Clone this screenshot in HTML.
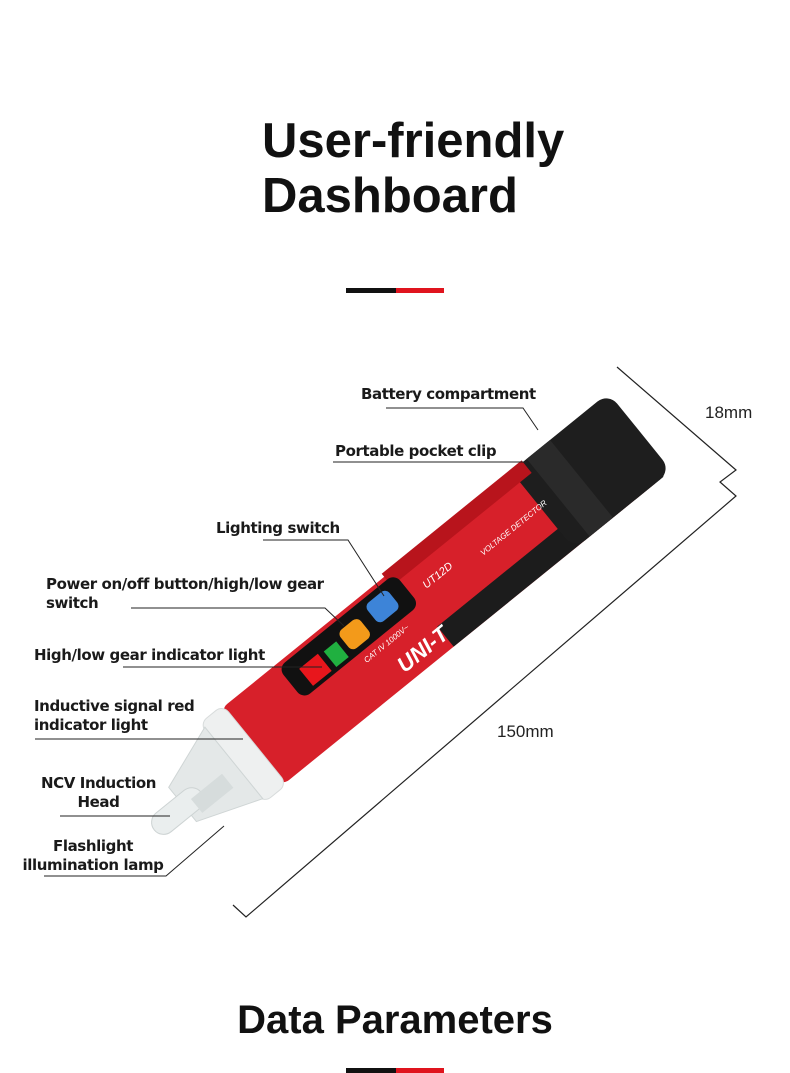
<!DOCTYPE html>
<html><head><meta charset="utf-8"><style>
html,body{margin:0;padding:0;background:#fff;}
body{width:790px;height:1073px;position:relative;overflow:hidden;font-family:"Liberation Sans","DejaVu Sans",sans-serif;}
.t{position:absolute;font-weight:bold;color:#111;}
.l{position:absolute;font-weight:bold;color:#1a1a1a;font-size:15px;line-height:19px;font-family:"DejaVu Sans","Liberation Sans",sans-serif;letter-spacing:-0.4px}
</style></head><body>
<div class="t" style="left:262px;top:114px;font-size:49px;line-height:55px;font-family:'Liberation Sans',sans-serif">User-friendly<br>Dashboard</div>
<div style="position:absolute;left:346px;top:288px;width:50px;height:5px;background:#111"></div>
<div style="position:absolute;left:396px;top:288px;width:48px;height:5px;background:#e0141e"></div>

<svg width="790" height="1073" style="position:absolute;left:0;top:0">
<g fill="none" stroke="#222" stroke-width="1.2">
<path d="M233 905 L246 917 L736 496 L720 482 L736 470 L617 367"/>
</g>
<g transform="translate(163,828) rotate(-39)">
 <rect x="118" y="-56" width="490" height="98" rx="10" fill="#d7202a"/>
 <rect x="340" y="16" width="270" height="26" fill="#1c1c1c"/>
 <rect x="495" y="-58" width="125" height="100" rx="14" fill="#1e1e1e"/>
 <rect x="515" y="-58" width="30" height="100" fill="#2a2a2a"/>
 <rect x="330" y="-60" width="180" height="16" fill="#b8141c"/>
 <rect x="190" y="-52" width="150" height="40" rx="9" fill="#111"/>
 <rect x="296" y="-46" width="28" height="24" rx="6" fill="#3d84d8"/>
 <rect x="258" y="-42" width="26" height="24" rx="6" fill="#f39a1a"/>
 <rect x="236" y="-36" width="16" height="20" fill="#20b040"/>
 <rect x="206" y="-38" width="24" height="22" fill="#e8161c"/>
 <text x="285" y="32" fill="#fff" font-size="22" font-weight="bold" font-style="italic" font-family="Liberation Sans">UNI-T</text>
 <text x="262" y="0" fill="#fff" font-size="8" font-style="italic">CAT IV 1000V~</text>
 <text x="355" y="-20" fill="#fff" font-size="11" font-style="italic">UT12D</text>
 <text x="420" y="-10" fill="#fff" font-size="8" font-style="italic">VOLTAGE DETECTOR</text>
 <rect x="94" y="-58" width="30" height="102" rx="9" fill="#eef0f0" stroke="#d8dcdc"/>
 <path d="M96 -52 L30 -28 L30 16 L96 40 Z" fill="#e4e8e8" stroke="#cfd5d5"/>
 <rect x="-8" y="-16" width="60" height="24" rx="12" fill="#eaeeee" stroke="#cdd3d3"/>
 <rect x="40" y="-5" width="40" height="18" fill="#d6dcdc"/>
</g>
<g stroke="#222" stroke-width="1">
 <path d="M386 408 L523 408 L538 430" fill="none"/>
 <path d="M333 462 L525 462"/>
 <path d="M263 540 L348 540 L384 596" fill="none"/>
 <path d="M131 608 L325 608 L344 626" fill="none"/>
 <path d="M123 667 L322 667"/>
 <path d="M35 739 L243 739"/>
 <path d="M60 816 L170 816"/>
 <path d="M44 876 L166 876 L224 826" fill="none"/>
</g>
</svg>

<div class="l" style="left:361px;top:385px">Battery compartment</div>
<div class="l" style="left:335px;top:442px">Portable pocket clip</div>
<div class="l" style="left:216px;top:519px">Lighting switch</div>
<div class="l" style="left:46px;top:575px">Power on/off button/high/low gear<br>switch</div>
<div class="l" style="left:34px;top:646px">High/low gear indicator light</div>
<div class="l" style="left:34px;top:697px">Inductive signal red<br>indicator light</div>
<div class="l" style="left:37px;top:774px;text-align:center;width:123px">NCV Induction<br>Head</div>
<div class="l" style="left:18px;top:837px;text-align:center;width:150px">Flashlight<br>illumination lamp</div>
<div style="position:absolute;left:705px;top:403px;font-size:17px;color:#222">18mm</div>
<div style="position:absolute;left:497px;top:722px;font-size:17px;color:#222">150mm</div>

<div class="t" style="left:0;width:790px;text-align:center;top:997px;font-size:40px;line-height:46px;font-family:'Liberation Sans',sans-serif">Data Parameters</div>
<div style="position:absolute;left:346px;top:1068px;width:50px;height:5px;background:#111"></div>
<div style="position:absolute;left:396px;top:1068px;width:48px;height:5px;background:#e0141e"></div>
</body></html>
